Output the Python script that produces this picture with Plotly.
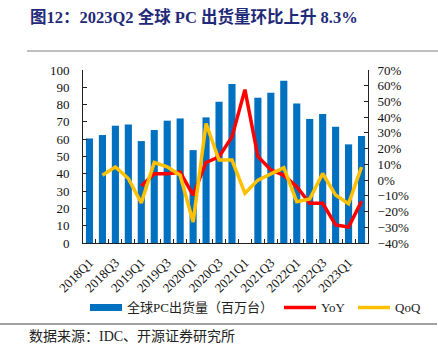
import plotly.graph_objects as go

quarters = ["2018Q1", "2018Q2", "2018Q3", "2018Q4", "2019Q1", "2019Q2", "2019Q3", "2019Q4",
            "2020Q1", "2020Q2", "2020Q3", "2020Q4", "2021Q1", "2021Q2", "2021Q3", "2021Q4",
            "2022Q1", "2022Q2", "2022Q3", "2022Q4", "2023Q1", "2023Q2"]
shipments = [60.4, 62.4, 67.8, 68.5, 58.9, 65.3, 70.7, 72.0, 53.7, 72.6, 81.7, 91.9,
             None, 84.0, 86.9, 93.8, 80.7, 71.7, 74.6, 67.2, 57.0, 61.8]
yoy = [None, None, None, None, -3.7, 4.0, 4.0, 5.0, -9.6, 11.2, 14.8, 27.5,
       57.5, 15.0, 6.5, 3.0, -4.2, -14.8, -14.8, -28.5, -29.8, -13.4]
qoq = [None, 3.1, 8.4, 1.0, -14.5, 11.2, 8.4, 3.1, -26.6, 36.0, 12.7, 12.7,
       -8.4, 0.0, 3.8, 7.9, -13.7, -12.0, 4.2, -9.5, -15.0, 8.3]
tick_text = [q if i % 2 == 0 else "" for i, q in enumerate(quarters)]

title_text = "图12：2023Q2 全球 PC 出货量环比上升 8.3%"
source_text = "数据来源：IDC、开源证券研究所"
bar_name = "全球PC出货量（百万台）"

BLUE = "#0070C0"
RED = "#FF0000"
YELLOW = "#FFC000"
SERIF = "Liberation Serif, Noto Sans CJK SC"

fig = go.Figure()
fig.add_trace(go.Bar(x=quarters, y=shipments, name=bar_name, marker_color=BLUE,
                     marker_line_width=0, width=0.55, yaxis="y"))
fig.add_trace(go.Scatter(x=quarters, y=yoy, name="YoY", mode="lines",
                         line=dict(color=RED, width=3.5), yaxis="y2", connectgaps=False))
fig.add_trace(go.Scatter(x=quarters, y=qoq, name="QoQ", mode="lines",
                         line=dict(color=YELLOW, width=3.5), yaxis="y2", connectgaps=False))

W, H = 438, 349
L, R, T, B = 83, 70, 70, 106
pw, ph = W - L - R, H - T - B


def px(x):
    return (x - L) / pw


def py(y):
    return (H - B - y) / ph


axis_common = dict(showgrid=False, zeroline=False, showline=True, linecolor="#222",
                   linewidth=1, ticks="inside", ticklen=4, tickcolor="#222",
                   tickfont=dict(family=SERIF, size=13, color="#111"))

fig.update_layout(
    width=W, height=H,
    margin=dict(l=L, r=R, t=T, b=B),
    paper_bgcolor="white", plot_bgcolor="white",
    showlegend=False,
    xaxis=dict(type="category", categoryorder="array", categoryarray=quarters,
               tickmode="array", tickvals=quarters, ticktext=tick_text,
               tickson="boundaries", tickangle=-45, range=[-0.5, 21.5],
               ticklabelstandoff=6, **axis_common),
    yaxis=dict(range=[0, 100], dtick=10, tick0=0, ticklabelstandoff=10, **axis_common),
    yaxis2=dict(range=[-40, 70], dtick=10, tick0=-40, ticksuffix="%", overlaying="y",
                side="right", ticklabelstandoff=6, **axis_common),
    bargap=0.45,
)

shapes = [
    dict(type="line", xref="paper", yref="paper", x0=px(27), x1=px(438), y0=py(51), y1=py(51),
         line=dict(color="#aaaaaa", width=1.5)),
    dict(type="line", xref="paper", yref="paper", x0=px(0), x1=px(437), y0=py(324), y1=py(324),
         line=dict(color="#444444", width=1)),
    dict(type="rect", xref="paper", yref="paper", x0=px(90), x1=px(122), y0=py(311), y1=py(304),
         fillcolor=BLUE, line=dict(width=0)),
    dict(type="line", xref="paper", yref="paper", x0=px(284), x1=px(316), y0=py(307.5), y1=py(307.5),
         line=dict(color=RED, width=3.5)),
    dict(type="line", xref="paper", yref="paper", x0=px(358), x1=px(390), y0=py(307.5), y1=py(307.5),
         line=dict(color=YELLOW, width=3.5)),
]
annotations = [
    dict(text=title_text, xref="paper", yref="paper", x=px(28), y=py(17), xanchor="left",
         yanchor="middle", showarrow=False,
         font=dict(family=SERIF, size=16.5, color="#1F2A78", weight="bold")),
    dict(text=source_text, xref="paper", yref="paper", x=px(27), y=py(336), xanchor="left",
         yanchor="middle", showarrow=False,
         font=dict(family=SERIF, size=14, color="#222")),
    dict(text=bar_name, xref="paper", yref="paper", x=px(125), y=py(307.5), xanchor="left",
         yanchor="middle", showarrow=False, font=dict(family=SERIF, size=13, color="#222")),
    dict(text="YoY", xref="paper", yref="paper", x=px(319), y=py(307.5), xanchor="left",
         yanchor="middle", showarrow=False, font=dict(family=SERIF, size=13, color="#222")),
    dict(text="QoQ", xref="paper", yref="paper", x=px(393), y=py(307.5), xanchor="left",
         yanchor="middle", showarrow=False, font=dict(family=SERIF, size=13, color="#222")),
]
fig.update_layout(shapes=shapes, annotations=annotations)

fig.write_html("out.html")
